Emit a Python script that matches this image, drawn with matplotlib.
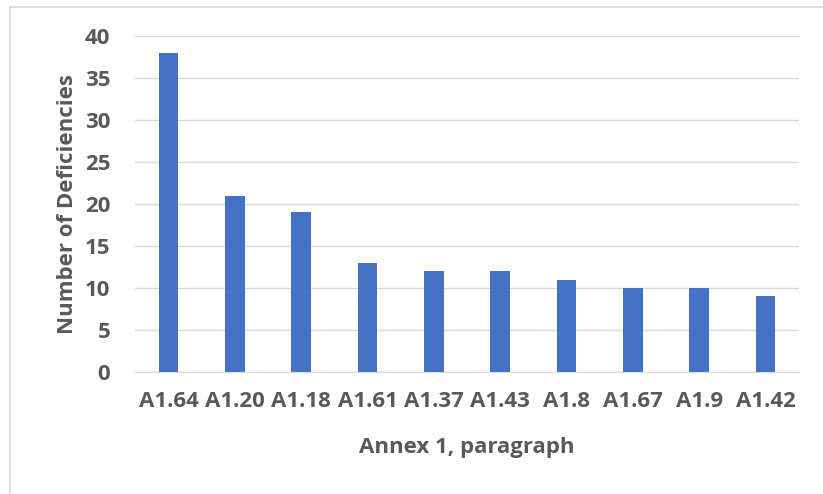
import matplotlib
matplotlib.use('Agg')
import matplotlib.pyplot as plt
from matplotlib.lines import Line2D

paragraphs = ["A1.64", "A1.20", "A1.18", "A1.61", "A1.37",
              "A1.43", "A1.8", "A1.67", "A1.9", "A1.42"]
deficiencies = [38, 21, 19, 13, 12, 12, 11, 10, 10, 9]
y_ticks = [0, 5, 10, 15, 20, 25, 30, 35, 40]

text_color = '#595959'
font = 'Open Sans'

fig = plt.figure(figsize=(8.23, 4.94), dpi=100, facecolor='white')
ax = fig.add_axes([0.1644, 0.247, 0.806, 0.68])

x = range(len(paragraphs))
ax.bar(x, deficiencies, width=0.3, color='#4472C4', zorder=2)

ax.set_xlim(-0.5, len(paragraphs) - 0.5)
ax.set_ylim(0, 40)
ax.set_yticks(y_ticks)
ax.set_xticks(list(x))
ax.set_xticklabels(paragraphs)
ax.yaxis.grid(True, color='#d9d9d9', linewidth=1, zorder=0)
ax.set_axisbelow(True)

for side in ['top', 'right', 'left']:
    ax.spines[side].set_visible(False)
ax.spines['bottom'].set_color('#d9d9d9')
ax.tick_params(axis='both', length=0, labelcolor=text_color, labelsize=16)
ax.tick_params(axis='x', pad=14)
ax.tick_params(axis='y', pad=18)
for lbl in ax.get_xticklabels() + ax.get_yticklabels():
    lbl.set_fontfamily(font)
    lbl.set_fontweight('bold')

ax.set_xlabel('Annex 1, paragraph', fontsize=16, fontweight='bold',
              color=text_color, family=font, labelpad=18)
ax.set_ylabel('Number of Deficiencies', fontsize=16, fontweight='bold',
              color=text_color, family=font, labelpad=5)

# chart frame: only top and left edges show
frame_kw = dict(color='#d9d9d9', linewidth=1.2, transform=fig.transFigure)
fig.add_artist(Line2D([10 / 823, 1.0], [1 - 7 / 494, 1 - 7 / 494], **frame_kw))
fig.add_artist(Line2D([10 / 823, 10 / 823], [1 - 7 / 494, 0.0], **frame_kw))

fig.savefig('out.png', dpi=100, facecolor='white')
